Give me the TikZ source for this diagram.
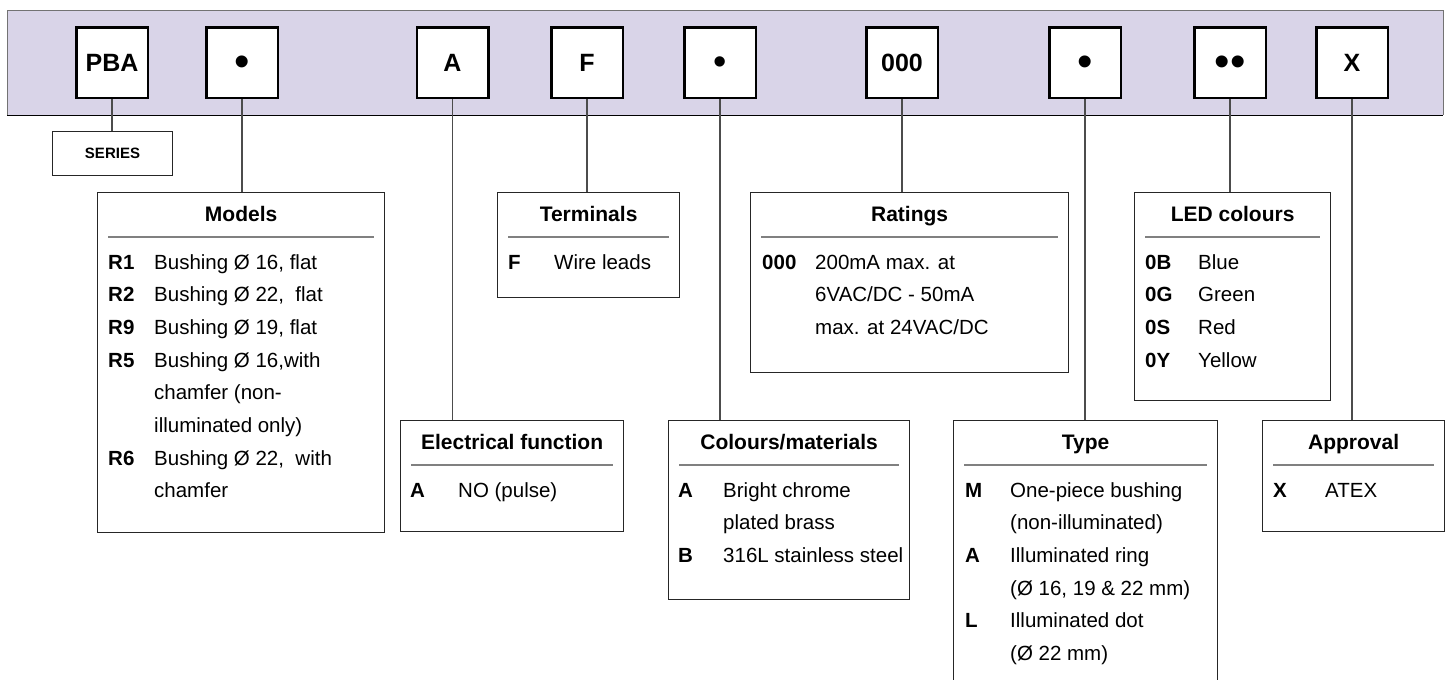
\documentclass[tikz,border=0pt]{standalone}
\usepackage{fontspec}
\setmainfont{Liberation Sans}
\definecolor{barfill}{RGB}{217,212,232}
\tikzset{
 codebox/.style={draw=black, line width=2.5pt, fill=white, minimum width=71.5pt, minimum height=70.5pt, inner sep=0pt, font=\bfseries\fontsize{25}{25}\selectfont},
 bullettxt/.style={inner sep=0pt, font=\fontsize{44}{44}\selectfont},
 dbox/.style={draw=black!85, line width=1.2pt, fill=white, inner sep=0pt, anchor=north west},
 headtxt/.style={anchor=base, inner sep=0pt, font=\bfseries\fontsize{21}{21}\selectfont},
 codetxt/.style={anchor=base west, inner sep=0pt, font=\bfseries\fontsize{20.5}{20.5}\selectfont},
 desctxt/.style={anchor=base west, inner sep=0pt, font=\fontsize{20.5}{20.5}\selectfont},
 rulel/.style={draw=black!50, line width=1.4pt},
 conn/.style={draw=black!70, line width=1.2pt},
}
% #1 name, #2 left, #3 top, #4 width, #5 height, #6 heading
\newcommand\dbx[6]{%
  \node[dbox, minimum width=#4pt, minimum height=#5pt] (#1) at (#2,#3) {};
  \node[headtxt] (#1-h) at ([yshift=-29pt]#1.north) {#6};
  \draw[rulel] ([xshift=11pt,yshift=-45pt]#1.north west) -- ([xshift=-11pt,yshift=-45pt]#1.north east);
}
% #1 box, #2 code offset, #3 desc offset, #4 line index, #5 code, #6 desc
\newcommand\drw[6]{%
  \node[codetxt] (#1-c#4) at ([xshift=#2pt,yshift={-(77pt+#4*32.7pt)}]#1.north west) {#5};
  \node[desctxt] (#1-d#4) at ([xshift=#3pt,yshift={-(77pt+#4*32.7pt)}]#1.north west) {#6};
}
% continuation line: #1 box, #2 desc offset, #3 index, #4 desc
\newcommand\dcn[4]{%
  \node[desctxt] (#1-d#3) at ([xshift=#2pt,yshift={-(77pt+#3*32.7pt)}]#1.north west) {#4};
}
\begin{document}
\begin{tikzpicture}[x=1pt,y=-1pt]
\useasboundingbox (0,0) rectangle (1449,680);
\clip (0,0) rectangle (1449,680);
% top bar
\fill[barfill] (7,10) rectangle (1443,115);
\draw[black!55, line width=1pt] (7,115) -- (7,10) -- (1443,10) -- (1443,115);
\draw[black, line width=1pt] (7,115) -- (1443,115);
% code boxes
\node[codebox] (cPBA) at (112,62.5) {PBA};
\node[codebox] (cD1) at (242,62.5) {};
\node[bullettxt] (cD1t) at ([yshift=-4pt]cD1.center) {•};
\node[codebox] (cA) at (452.5,62.5) {A};
\node[codebox] (cF) at (587,62.5) {F};
\node[codebox] (cD2) at (720,62.5) {};
\node[bullettxt, font=\fontsize{38}{38}\selectfont] (cD2t) at ([yshift=-3.5pt]cD2.center) {•};
\node[codebox] (c000) at (902,62.5) {000};
\node[codebox] (cD3) at (1085,62.5) {};
\node[bullettxt] (cD3t) at ([yshift=-4pt]cD3.center) {•};
\node[codebox] (cDD) at (1230,62.5) {};
\node[bullettxt] (cDDt) at ([yshift=-4pt]cDD.center) {•\kern0.5pt•};
\node[codebox] (cX) at (1352,62.5) {X};
% series
\node[draw=black!85, line width=1.2pt, fill=white, minimum width=120pt, minimum height=44pt, inner sep=0pt, font=\bfseries\fontsize{15}{15}\selectfont] (series) at (112.5,153.5) {SERIES};
% detail boxes
\dbx{models}{97}{192}{287}{340}{Models}
\drw{models}{11}{57}{0}{R1}{Bushing Ø 16, flat}
\drw{models}{11}{57}{1}{R2}{Bushing Ø 22,~ flat}
\drw{models}{11}{57}{2}{R9}{Bushing Ø 19, flat}
\drw{models}{11}{57}{3}{R5}{Bushing Ø 16,with}
\dcn{models}{57}{4}{chamfer (non-}
\dcn{models}{57}{5}{illuminated only)}
\drw{models}{11}{57}{6}{R6}{Bushing Ø 22,~ with}
\dcn{models}{57}{7}{chamfer}

\dbx{term}{497}{192}{182}{105}{Terminals}
\drw{term}{11}{57}{0}{F}{Wire leads}

\dbx{rat}{750}{192}{318}{180}{Ratings}
\drw{rat}{12}{65}{0}{000}{200mA max. at}
\dcn{rat}{65}{1}{6VAC/DC - 50mA}
\dcn{rat}{65}{2}{max. at 24VAC/DC}

\dbx{led}{1134}{192}{196}{208}{LED colours}
\drw{led}{11}{64}{0}{0B}{Blue}
\drw{led}{11}{64}{1}{0G}{Green}
\drw{led}{11}{64}{2}{0S}{Red}
\drw{led}{11}{64}{3}{0Y}{Yellow}

\dbx{elec}{400}{420}{223}{111}{Electrical function}
\drw{elec}{10}{58}{0}{A}{NO (pulse)}

\dbx{col}{668}{420}{241}{179}{Colours/materials}
\drw{col}{10}{55}{0}{A}{Bright chrome}
\dcn{col}{55}{1}{plated brass}
\drw{col}{10}{55}{2}{B}{316L stainless steel}

\dbx{type}{953}{420}{264}{272}{Type}
\drw{type}{12}{57}{0}{M}{One-piece bushing}
\dcn{type}{57}{1}{(non-illuminated)}
\drw{type}{12}{57}{2}{A}{Illuminated ring}
\dcn{type}{57}{3}{(Ø 16, 19 \& 22 mm)}
\drw{type}{12}{57}{4}{L}{Illuminated dot}
\dcn{type}{57}{5}{(Ø 22 mm)}

\dbx{appr}{1262}{420}{182}{111}{Approval}
\drw{appr}{11}{63}{0}{X}{ATEX}

% connectors
\draw[conn] (cPBA.south) -- (cPBA.south |- series.north);
\draw[conn] (cD1.south) -- (cD1.south |- models.north);
\draw[conn] (cA.south) -- (cA.south |- elec.north);
\draw[conn] (cF.south) -- (cF.south |- term.north);
\draw[conn] (cD2.south) -- (cD2.south |- col.north);
\draw[conn] (c000.south) -- (c000.south |- rat.north);
\draw[conn] (cD3.south) -- (cD3.south |- type.north);
\draw[conn] (cDD.south) -- (cDD.south |- led.north);
\draw[conn] (cX.south) -- (cX.south |- appr.north);
\end{tikzpicture}
\end{document}
